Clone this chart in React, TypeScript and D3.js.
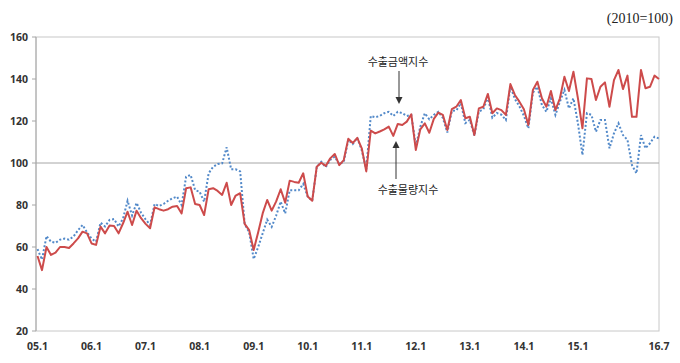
import React, { useEffect, useRef } from "react";
import * as d3 from "d3";

// 수출물량지수 (red solid), monthly 2005.1 ~ 2016.7
const volume = [
  55.7, 49, 60, 56.2, 57.3, 60, 60, 59.5, 61.7, 64.1, 67.3, 66.5,
  61.7, 61, 69.7, 66.5, 70.2, 70, 66.5, 71.3, 76.8, 70.5, 77.3, 73.7,
  71, 68.9, 78.9, 78, 77.3, 78, 79.2, 79.5, 76, 88, 88.4, 80.5,
  80, 75.2, 87.5, 88, 86.7, 84.8, 90.6, 80, 84.5, 85.6, 71, 68,
  58.6, 67, 76, 82.4, 77.3, 81.7, 87.5, 81.1, 91.6, 91, 90.6, 95.1,
  84, 82, 98.2, 100.1, 98.6, 102.2, 104.3, 99, 101.4, 111.5, 109.5, 112,
  107, 96, 115.4, 114.1, 115, 116, 117.3, 112.9, 118.6, 118.1, 119.7, 123.2,
  106.2, 116, 118.9, 114.4, 121, 124, 122.9, 115.7, 125.6, 126.8, 130, 121.3,
  122, 113.3, 126, 126.8, 132.9, 123.7, 126, 125.2, 122.9, 137.6, 132.4, 129.2,
  125.6, 118.1, 134.8, 138.7, 130.8, 126.8, 134.3, 125.2, 130.8, 141.1, 134.3, 143.5,
  130.8, 116.5, 140.3, 140, 130, 136.3, 138.4, 126.8, 139.5, 144.3, 135.2, 141.6,
  122, 122, 144.3, 135.6, 136.3, 141.6, 140,
];

// 수출금액지수 (blue dotted)
const amount = [
  59, 54, 65.2, 62.5, 62, 63.5, 64, 63.5, 65, 68, 70.5, 67,
  64, 62.5, 71.6, 69.8, 72.9, 73.3, 69.8, 73.6, 82, 75, 81, 76.3,
  73.2, 70.5, 80.5, 79.5, 80.5, 82, 83.2, 84, 80, 93.5, 94.3, 87.1,
  86.3, 81.6, 95.1, 98.2, 99.5, 99.8, 107.5, 97, 97, 96, 71, 67,
  54.3, 60, 66.5, 73, 69.6, 75, 81.6, 76, 87, 87, 87, 90,
  84, 82, 98, 100.6, 98, 101.5, 103, 99.5, 100.5, 111, 109, 112,
  106, 97, 122.4, 121.8, 122.4, 123.7, 124.4, 122.4, 124.4, 123.7, 122.4, 122.9,
  108, 117.3, 123.7, 120.8, 122.9, 124.4, 121.5, 114.5, 124.8, 125, 128.5, 119,
  120.5, 113, 124.5, 125.6, 131.4, 121.6, 123.8, 123, 120.5, 136.5, 130.5, 127,
  122.5, 116.5, 133.5, 136.3, 127.6, 124.4, 130.8, 122.9, 129.2, 134.8, 126, 130.8,
  118.9, 103.8, 123.7, 122.9, 114.9, 120.5, 120.5, 107, 114.1, 118.9, 113.3, 111,
  99, 95.1, 113.3, 107, 109.4, 112.5, 111.7,
];

const yTicks = [20, 40, 60, 80, 100, 120, 140, 160];
const xTickIdx = [0, 12, 24, 36, 48, 60, 72, 84, 96, 108, 120, 138];
const xTickLabels = ["05.1", "06.1", "07.1", "08.1", "09.1", "10.1", "11.1", "12.1", "13.1", "14.1", "15.1", "16.7"];

export default function App() {
  const ref = useRef<SVGSVGElement>(null);

  useEffect(() => {
    const svg = d3.select(ref.current);
    svg.selectAll("*").remove();

    const left = 36, right = 659, top = 37, bottom = 331;
    const x = d3.scaleLinear().domain([0, volume.length - 1]).range([left + 1.5, right]);
    const y = d3.scaleLinear().domain([20, 160]).range([bottom, top]);
    const font = "'Noto Sans', 'DejaVu Sans', sans-serif";

    // frame
    svg.append("rect")
      .attr("x", left).attr("y", top)
      .attr("width", right - left).attr("height", bottom - top)
      .attr("fill", "none").attr("stroke", "#c8c8c8").attr("stroke-width", 1);

    // 100 baseline
    svg.append("line")
      .attr("x1", left).attr("x2", right)
      .attr("y1", y(100)).attr("y2", y(100))
      .attr("stroke", "#a6a6a6").attr("stroke-width", 1);

    // y axis
    svg.append("line")
      .attr("x1", left).attr("x2", left).attr("y1", top).attr("y2", bottom)
      .attr("stroke", "#a6a6a6");
    svg.selectAll(".ytick")
      .data(yTicks)
      .enter()
      .append("line")
      .attr("x1", left - 4).attr("x2", left)
      .attr("y1", d => y(d)).attr("y2", d => y(d))
      .attr("stroke", "#a6a6a6");
    svg.selectAll(".ylab")
      .data(yTicks)
      .enter()
      .append("text")
      .attr("x", 28)
      .attr("y", d => y(d) + 3.5)
      .attr("text-anchor", "end")
      .attr("font-family", font)
      .attr("font-size", 10.5)
      .attr("font-weight", "bold")
      .attr("fill", "#333")
      .text(d => d);

    // x axis labels
    svg.selectAll(".xlab")
      .data(xTickIdx)
      .enter()
      .append("text")
      .attr("x", d => x(d))
      .attr("y", 350)
      .attr("text-anchor", "middle")
      .attr("font-family", font)
      .attr("font-size", 10.5)
      .attr("font-weight", "bold")
      .attr("fill", "#333")
      .text((d, i) => xTickLabels[i]);

    const line = d3.line<number>()
      .x((d, i) => x(i))
      .y(d => y(d));

    svg.append("path")
      .datum(amount)
      .attr("d", line)
      .attr("fill", "none")
      .attr("stroke", "#5289c9")
      .attr("stroke-width", 2)
      .attr("stroke-dasharray", "2,2");

    svg.append("path")
      .datum(volume)
      .attr("d", line)
      .attr("fill", "none")
      .attr("stroke", "#cd4b4b")
      .attr("stroke-width", 2)
      .attr("stroke-linejoin", "round");

    // annotations
    const kfont = "'Noto Sans CJK KR', sans-serif";
    svg.append("text")
      .attr("x", 398).attr("y", 66)
      .attr("text-anchor", "middle")
      .attr("font-family", kfont).attr("font-size", 11)
      .attr("fill", "#222")
      .text("수출금액지수");
    svg.append("line")
      .attr("x1", 399).attr("x2", 399).attr("y1", 71).attr("y2", 99)
      .attr("stroke", "#333").attr("stroke-width", 1);
    svg.append("path")
      .attr("d", "M395.5,97 L399,104 L402.5,97 Z")
      .attr("fill", "#333");

    svg.append("text")
      .attr("x", 408).attr("y", 194)
      .attr("text-anchor", "middle")
      .attr("font-family", kfont).attr("font-size", 11)
      .attr("fill", "#222")
      .text("수출물량지수");
    svg.append("line")
      .attr("x1", 396).attr("x2", 396).attr("y1", 146).attr("y2", 179)
      .attr("stroke", "#333").attr("stroke-width", 1);
    svg.append("path")
      .attr("d", "M392.5,148 L396,141 L399.5,148 Z")
      .attr("fill", "#333");

    // unit
    svg.append("text")
      .attr("x", 673).attr("y", 23)
      .attr("text-anchor", "end")
      .attr("font-family", "'Liberation Serif', serif")
      .attr("font-size", 14)
      .attr("fill", "#222")
      .text("(2010=100)");
  }, []);

  return (
    <svg
      ref={ref}
      width={680}
      height={363}
      style={{ position: "absolute", left: 0, top: 0, background: "#fff" }}
    />
  );
}
